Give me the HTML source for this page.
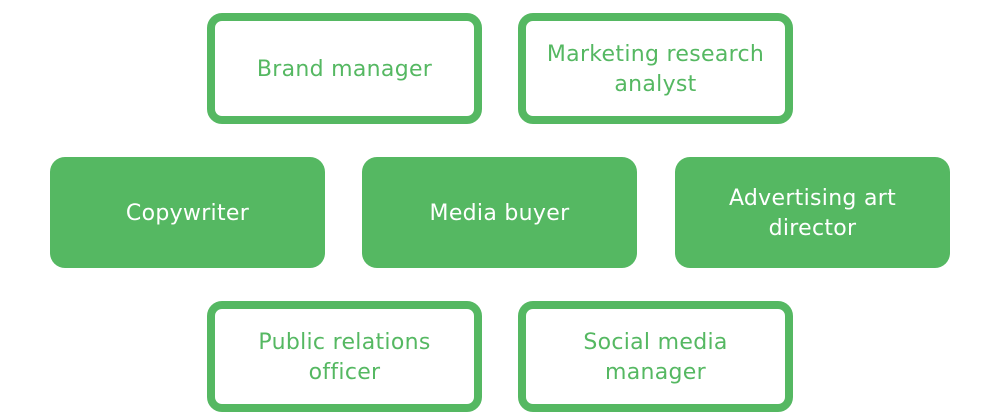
<!DOCTYPE html>
<html><head><style>
body{margin:0;width:1000px;height:420px;background:#fff;position:relative;overflow:hidden;font-family:"DejaVu Sans",sans-serif}
.b{position:absolute;box-sizing:border-box;width:275px;height:111px;border-radius:15px;display:flex;align-items:center;justify-content:center;text-align:center;font-size:22px;line-height:30px;letter-spacing:0.3px;padding-top:3px}
.o{border:8px solid #55b862;color:#55b862;background:#fff}
.f{background:#55b862;color:#fff}
</style></head><body>
<div class="b o" style="left:207px;top:13px">Brand manager</div>
<div class="b o" style="left:518px;top:13px">Marketing research<br>analyst</div>
<div class="b f" style="left:50px;top:157px">Copywriter</div>
<div class="b f" style="left:362px;top:157px">Media buyer</div>
<div class="b f" style="left:675px;top:157px">Advertising art<br>director</div>
<div class="b o" style="left:207px;top:301px">Public relations<br>officer</div>
<div class="b o" style="left:518px;top:301px">Social media<br>manager</div>
</body></html>
